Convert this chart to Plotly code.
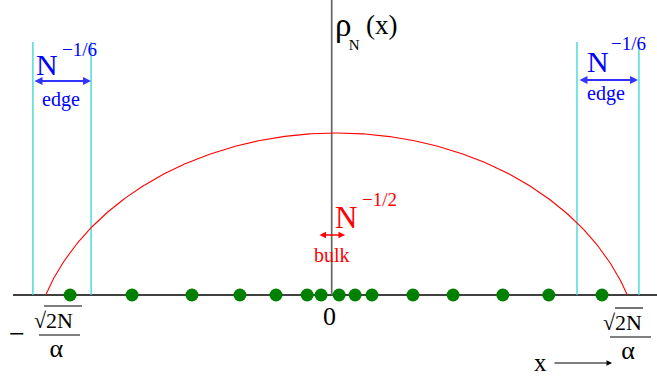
import numpy as np
import plotly.graph_objects as go

# ---- data (x in units of sqrt(2N)/alpha, density normalised to peak 1) ----
eigenvalues = [-0.916, -0.703, -0.497, -0.332, -0.208, -0.101, -0.053, 0.009,
               0.064, 0.122, 0.263, 0.401, 0.572, 0.730, 0.913]
edge_left = [-1.044, -0.844]
edge_right = [0.827, 1.040]
semicircle_radius = 1.0      # support edge sqrt(2N)/alpha
semicircle_peak = 1.0        # density maximum
arc_flatness = 0.95          # drawn arc: chord / full ellipse width
n_curve = 400

# ---- layout geometry (pixel -> data mapping) ----
W, H = 657, 382
CX, RX = 336.5, 290.8      # pixel centre / radius of the semicircle
AY, HY = 295.0, 162.0      # pixel of axis / pixel height of peak


def X(px):
    return (px - CX) / RX


def Y(py):
    return (AY - py) / HY


xs = np.linspace(-semicircle_radius, semicircle_radius, n_curve)
s0 = np.sqrt(1 - arc_flatness ** 2)
s = np.sqrt(np.clip(1 - (arc_flatness * xs / semicircle_radius) ** 2, 0, None))
ys = semicircle_peak * (s - s0) / (1 - s0)

fig = go.Figure()
fig.add_trace(go.Scatter(x=xs, y=ys, mode="lines",
                         line=dict(color="#ff0000", width=1.1),
                         hoverinfo="skip", showlegend=False))
fig.add_trace(go.Scatter(x=eigenvalues, y=[0] * len(eigenvalues), mode="markers",
                         marker=dict(color="#008000", size=13),
                         showlegend=False, cliponaxis=False))

shapes = []
# axes
shapes.append(dict(type="line", xref="x", yref="y", x0=X(13), x1=X(657), y0=0, y1=0,
                   line=dict(color="black", width=1.3), layer="below"))
shapes.append(dict(type="line", xref="x", yref="y", x0=X(331.7), x1=X(331.7), y0=0, y1=Y(0),
                   line=dict(color="#666666", width=1.7), layer="below"))
# edge lines
for xe in edge_left + edge_right:
    shapes.append(dict(type="line", xref="x", yref="y", x0=xe, x1=xe, y0=0, y1=Y(42),
                       line=dict(color="#40d8d8", width=1.4), layer="below"))
# sqrt overlines and fraction bars
shapes.append(dict(type="line", xref="x", yref="y", x0=X(44), x1=X(82), y0=Y(306), y1=Y(306),
                   line=dict(color="black", width=1.1)))
shapes.append(dict(type="line", xref="x", yref="y", x0=X(39), x1=X(80), y0=Y(335), y1=Y(335),
                   line=dict(color="black", width=1.1)))
shapes.append(dict(type="line", xref="x", yref="y", x0=X(615), x1=X(643), y0=Y(308), y1=Y(308),
                   line=dict(color="black", width=1.1)))
shapes.append(dict(type="line", xref="x", yref="y", x0=X(610), x1=X(651), y0=Y(337), y1=Y(337),
                   line=dict(color="black", width=1.1)))

SERIF = "Liberation Serif"
NB = "\u00a0"
ann = []


def txt(s, px, py, size, color="black", align="center"):
    ann.append(dict(text=s, x=X(px), y=Y(py), xref="x", yref="y", showarrow=False,
                    font=dict(family=SERIF, size=size, color=color), align=align,
                    xanchor="center", yanchor="middle"))


def arrow(px0, px1, py, color, both=True, width=1.5, head=2, size=1.0):
    ann.append(dict(x=X(px1), y=Y(py), ax=X(px0), ay=Y(py), xref="x", yref="y",
                    axref="x", ayref="y", text="", showarrow=True,
                    arrowhead=head, startarrowhead=head, arrowsize=size, startarrowsize=size,
                    arrowside="end+start" if both else "end",
                    arrowwidth=width, arrowcolor=color))


# rho_N(x): rho with a dropped subscript N, then (x)
ann.append(dict(text='<span style="font-size:33px">ρ</span><br>' + NB * 5
                + '<span style="font-size:15px">N</span>',
                x=X(333), y=Y(30), xref="x", yref="y", showarrow=False,
                font=dict(family=SERIF, size=11, color="black"), align="left",
                xanchor="left", yanchor="middle"))
txt("(x)", 381, 25, 27)

# edge labels
txt("N", 47, 64, 30, "#0000ff")
txt("−1/6", 79, 49, 19, "#0000ff")
txt("edge", 61, 99, 20, "#0000ff")
arrow(33, 91, 81, "#3333ff", width=2, head=2, size=0.8)

txt("N", 598, 61, 30, "#0000ff")
txt("−1/6", 628, 43, 19, "#0000ff")
txt("edge", 606, 93, 20, "#0000ff")
arrow(578, 638, 80, "#3333ff", width=2, head=2, size=0.8)

# bulk
txt("N", 346, 217, 31, "#ff0000")
txt("−1/2", 379, 199, 19, "#ff0000")
txt("bulk", 332, 255, 20, "#ff0000")
arrow(318, 345, 235, "#ff0000", width=1.3, head=2, size=1.0)

# zero
txt("0", 329, 316, 26)

# left end label  -sqrt(2N)/alpha
txt("−", 17, 333, 28)
txt('<span style="font-size:22px">√2N</span><br>' + NB + '<span style="font-size:26px">α</span>',
    53, 335, 22)

# right end label  sqrt(2N)/alpha
txt('<span style="font-size:22px">√2N</span><br>' + NB * 2 + '<span style="font-size:26px">α</span>',
    622, 337, 22)

# x arrow
txt("x", 540, 362, 25)
arrow(553, 612, 363, "black", both=False, width=1.1, head=2, size=1.0)

fig.update_layout(
    width=W, height=H, margin=dict(l=0, r=0, t=0, b=0),
    paper_bgcolor="white", plot_bgcolor="white",
    xaxis=dict(range=[X(0), X(W)], visible=False, fixedrange=True),
    yaxis=dict(range=[Y(H), Y(0)], visible=False, fixedrange=True),
    shapes=shapes, annotations=ann, showlegend=False,
)

fig.write_html("out.html", config={"displayModeBar": False},
               post_script="document.body.style.margin='0';document.body.style.overflow='hidden';")
